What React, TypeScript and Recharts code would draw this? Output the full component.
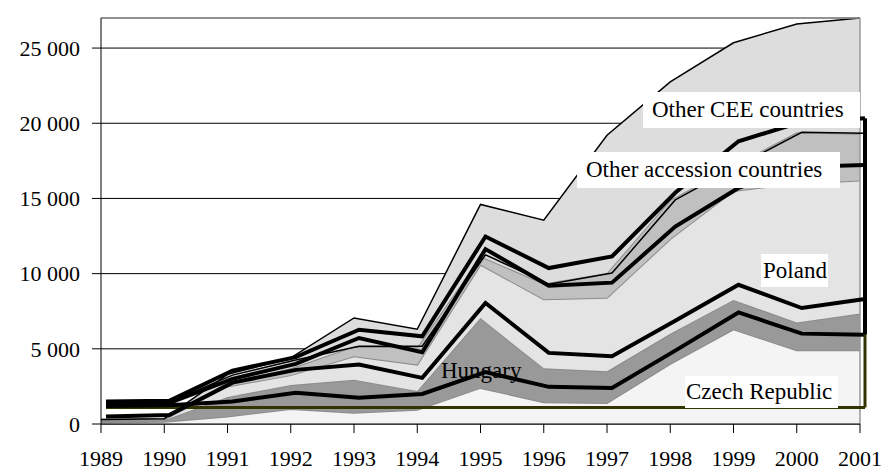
import React from 'react';
import {
  ComposedChart,
  Area,
  Line,
  XAxis,
  YAxis,
  CartesianGrid,
  ReferenceLine,
} from 'recharts';

const years = ['1989', '1990', '1991', '1992', '1993', '1994', '1995', '1996', '1997', '1998', '1999', '2000', '2001'];

// stacked areas (values per layer)
const czech = [100, 150, 500, 1000, 750, 950, 2400, 1450, 1400, 4000, 6300, 4900, 4900];
const hungary = [100, 100, 1300, 1600, 2200, 1250, 4650, 2250, 2100, 2000, 1950, 1850, 2450];
const poland = [50, 50, 700, 650, 1550, 1750, 3550, 4600, 4900, 6300, 7250, 9250, 8850];
const otherAcc = [30, 30, 300, 450, 650, 1150, 550, 1050, 1650, 2600, 1700, 3400, 3100];
const otherCee = [20, 20, 500, 700, 1900, 1200, 3450, 4200, 9150, 7850, 8150, 7200, 7700];

// black outline levels (cumulative)
const line1 = [1200, 1250, 1500, 2070, 1750, 2000, 3450, 2470, 2400, 4880, 7420, 6010, 5940];
const line2 = [500, 600, 2750, 3600, 3950, 3070, 8050, 4730, 4500, 6870, 9260, 7710, 8310];
const line3 = [1350, 1400, 3000, 4000, 5720, 4770, 11630, 9200, 9400, 13130, 15700, 17100, 17230];
const line4 = [1400, 1450, 3250, 4250, 5170, 5170, 11250, 9300, 10040, 14900, 17200, 19400, 19330];
const line5 = [1500, 1550, 3550, 4450, 6270, 5830, 12470, 10370, 11140, 15380, 18800, 20100, 20330];
const baseLevel = 1100;

const yTicks = [0, 5000, 10000, 15000, 20000, 25000];
const yLabels = ['0', '5 000', '10 000', '15 000', '20 000', '25 000'];

const data = years.map((year, i) => ({
  year,
  czech: czech[i],
  hungary: hungary[i],
  poland: poland[i],
  otherAcc: otherAcc[i],
  otherCee: otherCee[i],
  l1: line1[i],
  l2: line2[i],
  l3: line3[i],
  l4: line4[i],
  l5: line5[i],
}));

const FONT = "'Liberation Serif', 'Times New Roman', 'DejaVu Serif', serif";
const tickStyle = { fill: '#000', fontSize: 22, fontFamily: FONT };

const boxStyle: React.CSSProperties = {
  position: 'absolute',
  background: '#fff',
  fontFamily: FONT,
  fontSize: 23,
  color: '#000',
  whiteSpace: 'nowrap',
  boxSizing: 'border-box',
};

const last = years.length - 1;

export default function App() {
  return (
    <div style={{ position: 'absolute', left: 0, top: 0, width: 883, height: 472, background: '#fff' }}>
      <ComposedChart width={883} height={472} data={data} margin={{ top: 18, right: 23, bottom: 1, left: 0 }}>
        <CartesianGrid vertical={false} stroke="#000" strokeWidth={1} />
        <XAxis
          dataKey="year"
          interval={0}
          tickSize={9}
          tickMargin={17}
          stroke="#000"
          tick={tickStyle}
          height={47}
        />
        <XAxis xAxisId="s" dataKey="year" hide padding={{ left: 5, right: -5 }} />
        <YAxis
          domain={[0, 27000]}
          ticks={yTicks}
          tickFormatter={(v: number) => yLabels[yTicks.indexOf(v)]}
          tickSize={9}
          tickMargin={12}
          stroke="#000"
          tick={tickStyle}
          width={101}
        />
        <Area type="linear" dataKey="czech" stackId="a" fill="#f4f4f4" fillOpacity={1} stroke="#8c8c8c" strokeWidth={2} isAnimationActive={false} />
        <Area type="linear" dataKey="hungary" stackId="a" fill="#999999" fillOpacity={1} stroke="#8c8c8c" strokeWidth={2} isAnimationActive={false} />
        <Area type="linear" dataKey="poland" stackId="a" fill="#e4e4e4" fillOpacity={1} stroke="#8c8c8c" strokeWidth={2} isAnimationActive={false} />
        <Area type="linear" dataKey="otherAcc" stackId="a" fill="#c0c0c0" fillOpacity={1} stroke="#8c8c8c" strokeWidth={2} isAnimationActive={false} />
        <Area type="linear" dataKey="otherCee" stackId="a" fill="#dddddd" fillOpacity={1} stroke="#000" strokeWidth={1.5} isAnimationActive={false} />
        <ReferenceLine y={27000} stroke="#999" strokeWidth={1.5} ifOverflow="visible" />
        <ReferenceLine x="2001" stroke="#999" strokeWidth={1.5} ifOverflow="visible" />
        <ReferenceLine
          xAxisId="s"
          segment={[{ x: years[0], y: baseLevel }, { x: years[last], y: baseLevel }]}
          stroke="#333300"
          strokeWidth={3}
          ifOverflow="visible"
        />
        <Line xAxisId="s" type="linear" dataKey="l4" stroke="#000" strokeWidth={1.5} dot={false} isAnimationActive={false} />
        <Line xAxisId="s" type="linear" dataKey="l1" stroke="#000" strokeWidth={4} dot={false} isAnimationActive={false} />
        <Line xAxisId="s" type="linear" dataKey="l2" stroke="#000" strokeWidth={4} dot={false} isAnimationActive={false} />
        <Line xAxisId="s" type="linear" dataKey="l3" stroke="#000" strokeWidth={4} dot={false} isAnimationActive={false} />
        <Line xAxisId="s" type="linear" dataKey="l5" stroke="#000" strokeWidth={4} dot={false} isAnimationActive={false} />
        <ReferenceLine
          xAxisId="s"
          segment={[{ x: years[last], y: baseLevel }, { x: years[last], y: line1[last] }]}
          stroke="#333300"
          strokeWidth={3}
          ifOverflow="visible"
        />
        <ReferenceLine
          xAxisId="s"
          segment={[{ x: years[last], y: line1[last] }, { x: years[last], y: line5[last] }]}
          stroke="#000"
          strokeWidth={4}
          ifOverflow="visible"
        />
      </ComposedChart>
      <div style={{ ...boxStyle, left: 643, top: 92, width: 217, height: 36, lineHeight: '36px', paddingLeft: 9 }}>
        Other CEE countries
      </div>
      <div style={{ ...boxStyle, left: 577, top: 152, width: 263, height: 36, lineHeight: '36px', paddingLeft: 9 }}>
        Other accession countries
      </div>
      <div style={{ ...boxStyle, left: 761, top: 254, width: 67, height: 33, lineHeight: '33px', paddingLeft: 2 }}>
        Poland
      </div>
      <div style={{ ...boxStyle, left: 685, top: 376, width: 153, height: 32, lineHeight: '32px', paddingLeft: 1 }}>
        Czech Republic
      </div>
      <div style={{ ...boxStyle, background: 'transparent', left: 441, top: 356, height: 30, lineHeight: '30px' }}>
        Hungary
      </div>
    </div>
  );
}
